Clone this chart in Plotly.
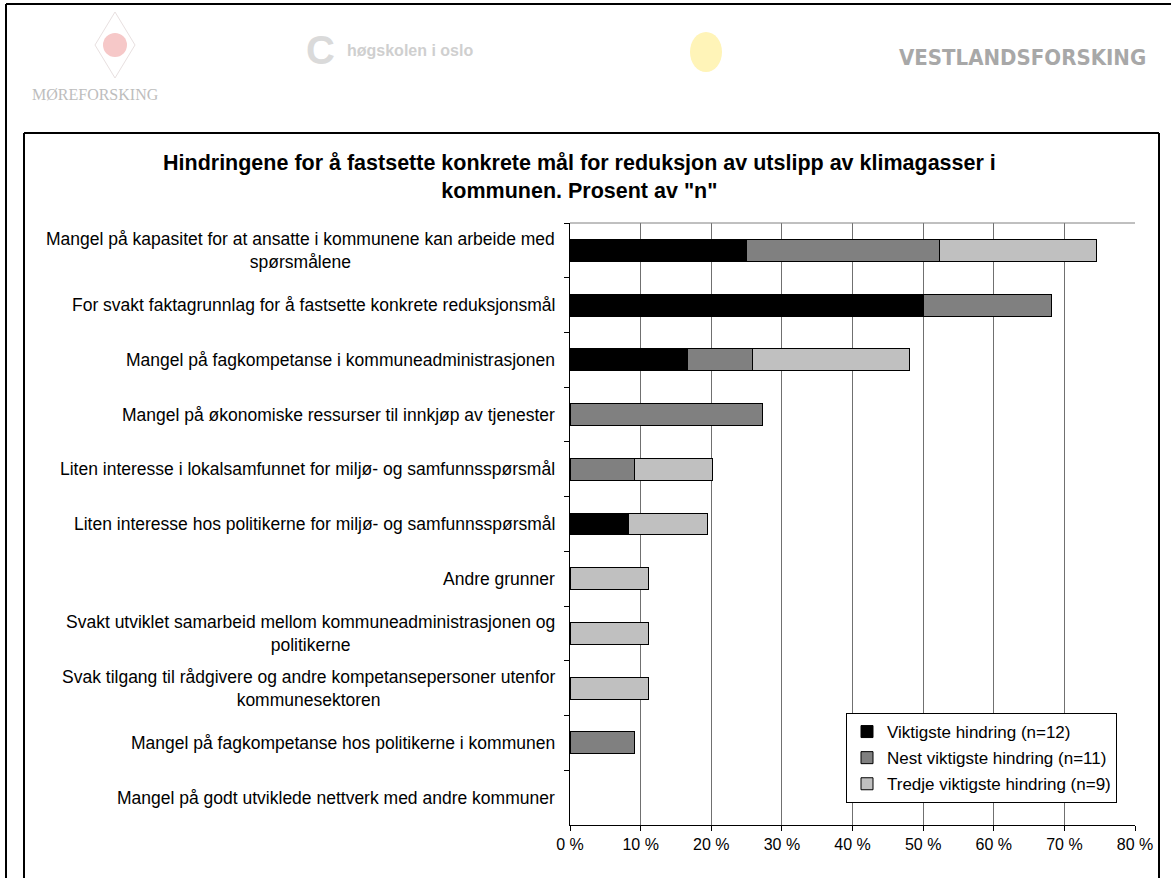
import plotly.graph_objects as go

categories = [
    "Mangel på kapasitet for at ansatte i kommunene kan arbeide med<br>spørsmålene",
    "For svakt faktagrunnlag for å fastsette konkrete reduksjonsmål",
    "Mangel på fagkompetanse i kommuneadministrasjonen",
    "Mangel på økonomiske ressurser til innkjøp av tjenester",
    "Liten interesse i lokalsamfunnet for miljø- og samfunnsspørsmål",
    "Liten interesse hos politikerne for miljø- og samfunnsspørsmål",
    "Andre grunner",
    "Svakt utviklet samarbeid mellom kommuneadministrasjonen og<br>politikerne",
    "Svak tilgang til rådgivere og andre kompetansepersoner utenfor<br>kommunesektoren",
    "Mangel på fagkompetanse hos politikerne i kommunen",
    "Mangel på godt utviklede nettverk med andre kommuner",
]
viktigste = [25.0, 50.0, 16.7, None, None, 8.3, None, None, None, None, None]
nest = [27.3, 18.2, 9.1, 27.3, 9.1, None, None, None, None, 9.1, None]
tredje = [22.2, None, 22.2, None, 11.1, 11.1, 11.1, 11.1, 11.1, None, None]
series_names = ["Viktigste hindring (n=12)", "Nest viktigste hindring (n=11)", "Tredje viktigste hindring (n=9)"]
series_colors = ["#000000", "#808080", "#C0C0C0"]
x_ticks = [0, 10, 20, 30, 40, 50, 60, 70, 80]
title_text = ("Hindringene for å fastsette konkrete mål for reduksjon av utslipp av klimagasser i<br>"
              "kommunen. Prosent av \"n\"")

W, H = 1171, 878
L, R, T, B = 570, 1135, 223, 825  # plot area in page pixels


def px(x):
    return (x - L) / (R - L)


def py(y):
    return (B - y) / (B - T)


FONT = "Liberation Sans, Arial"

fig = go.Figure()
for i, vals in enumerate([viktigste, nest, tredje]):
    fig.add_trace(go.Bar(
        y=categories, x=vals, orientation="h", name=series_names[i],
        legendgroup=f"g{i}",
        marker=dict(color=series_colors[i], line=dict(color="#000000", width=1)),
    ))

# category labels (centered multi-line, right-anchored)
for c in categories:
    fig.add_annotation(x=0, xref="paper", y=c, yref="y", text=c, showarrow=False,
                       xanchor="right", yanchor="middle", align="center", xshift=-13,
                       font=dict(family=FONT, size=17.5, color="#000000"))

# title
fig.add_annotation(x=px(579), y=py(177), xref="paper", yref="paper", text="<b>" + title_text + "</b>",
                   showarrow=False, xanchor="center", yanchor="middle", align="center",
                   font=dict(family=FONT, size=21.5, color="#000000"))

shapes = [
    dict(type="line", xref="paper", yref="paper", x0=0, x1=1, y0=1, y1=1,
         line=dict(color="#808080", width=1)),
    # outer frame
    dict(type="line", xref="paper", yref="paper", x0=px(6), x1=px(1190), y0=py(4), y1=py(4),
         line=dict(color="#000000", width=2)),
    dict(type="line", xref="paper", yref="paper", x0=px(6), x1=px(6), y0=py(4), y1=py(900),
         line=dict(color="#000000", width=2)),
    # inner frame
    dict(type="line", xref="paper", yref="paper", x0=px(24), x1=px(1159), y0=py(133), y1=py(133),
         line=dict(color="#000000", width=2)),
    dict(type="line", xref="paper", yref="paper", x0=px(24), x1=px(24), y0=py(133), y1=py(900),
         line=dict(color="#000000", width=2)),
    dict(type="line", xref="paper", yref="paper", x0=px(1159), x1=px(1159), y0=py(133), y1=py(900),
         line=dict(color="#000000", width=2)),
    # faint yellow logo
    dict(type="circle", xref="paper", yref="paper", x0=px(690), x1=px(722), y0=py(32), y1=py(72),
         fillcolor="#FFF4B8", line=dict(width=0)),
    # faint red logo
    dict(type="path", xref="paper", yref="paper",
         path=f"M {px(115)},{py(12)} L {px(135)},{py(45)} L {px(115)},{py(78)} L {px(95)},{py(45)} Z",
         fillcolor="rgba(0,0,0,0)", line=dict(color="#E8E0E0", width=1)),
    dict(type="circle", xref="paper", yref="paper", x0=px(103), x1=px(127), y0=py(33), y1=py(57),
         fillcolor="#F6C8C8", line=dict(width=0)),
]

fig.add_annotation(x=px(30), y=py(95), xref="paper", yref="paper", text="MØREFORSKING",
                   showarrow=False, xanchor="left", yanchor="middle",
                   font=dict(family="Liberation Serif, serif", size=16, color="#BDBDBD"))
fig.add_annotation(x=px(320), y=py(50), xref="paper", yref="paper", text="<b>C</b>",
                   showarrow=False, xanchor="center", yanchor="middle",
                   font=dict(family=FONT, size=40, color="#DADADA"))
fig.add_annotation(x=px(345), y=py(51), xref="paper", yref="paper", text="<b>høgskolen i oslo</b>",
                   showarrow=False, xanchor="left", yanchor="middle",
                   font=dict(family=FONT, size=16, color="#CFCFCF"))
fig.add_annotation(x=px(1148), y=py(57), xref="paper", yref="paper", text="<b>VESTLANDSFORSKING</b>",
                   showarrow=False, xanchor="right", yanchor="middle",
                   font=dict(family="Liberation Sans Narrow, DejaVu Sans Condensed, Arial", size=22,
                             color="#A8A8A8"))

fig.update_layout(
    width=W, height=H,
    margin=dict(l=L, r=W - R, t=T, b=H - B, pad=0),
    paper_bgcolor="white", plot_bgcolor="white",
    barmode="stack", bargap=0.6,
    font=dict(family=FONT, size=16, color="#000000"),
    showlegend=True,
    legend=dict(x=px(846), y=py(713), xanchor="left", yanchor="top",
                bordercolor="#000000", borderwidth=1, bgcolor="white",
                traceorder="grouped", tracegroupgap=1,
                font=dict(family=FONT, size=17, color="#000000"),
                itemwidth=30),
    xaxis=dict(range=[0, 80], tickvals=x_ticks, ticktext=[f"{v} %" for v in x_ticks],
               showgrid=True, gridcolor="#707070", gridwidth=1,
               showline=True, linecolor="#000000", linewidth=1,
               ticks="outside", ticklen=5, tickcolor="#000000", zeroline=False,
               tickfont=dict(family=FONT, size=16), fixedrange=True),
    yaxis=dict(type="category", categoryorder="array", categoryarray=categories,
               range=[len(categories) - 0.5, -0.5],
               showticklabels=False, showgrid=False,
               showline=True, linecolor="#000000", linewidth=1,
               ticks="outside", ticklen=5, tickcolor="#000000", tickson="boundaries",
               zeroline=False, fixedrange=True),
    shapes=shapes,
)

fig.write_html("out.html", config={"displayModeBar": False},
               post_script="document.body.style.margin='0';document.body.style.overflow='hidden';")
